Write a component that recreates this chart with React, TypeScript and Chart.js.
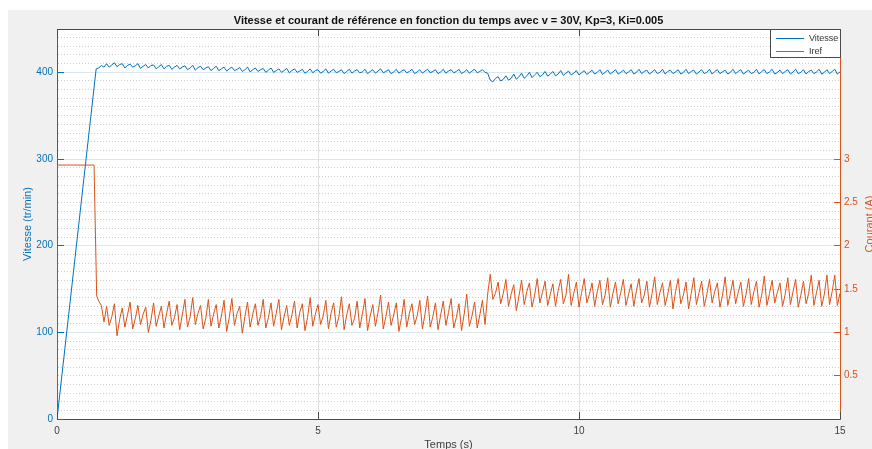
import React, { useEffect, useRef } from "react";
import { Chart, registerables } from "chart.js";

Chart.register(...registerables);

// ---------- text ----------
const TITLE = "Vitesse et courant de référence en fonction du temps avec v = 30V, Kp=3, Ki=0.005";
const X_TITLE = "Temps (s)";
const Y_LEFT_TITLE = "Vitesse (tr/min)";
const Y_RIGHT_TITLE = "Courant (A)";
const SERIES_NAMES = ["Vitesse", "Iref"];

// ---------- ticks ----------
const X_TICKS = [0, 5, 10, 15];
const SPEED_TICKS = [0, 100, 200, 300, 400];
const CURRENT_TICKS = [0.5, 1, 1.5, 2, 2.5, 3];
const SPEED_MINOR_STEP = 10;

// ---------- sampling ----------
const SAMPLE_DT = 0.05;
const SEG1_START = 0.8; // s
const SEG2_START = 8.25; // s (load step)

// ---------- Vitesse (tr/min) ----------
const vitesseHeadTimes = [0, 0.75];
const vitesseHead = [0, 404];
const vitesseSeg1 = [
  405, 408, 406,
  410, 406, 408.5, 411, 406.5, 409, 410, 405, 408, 409.5, 406, 407.5,
  410, 404.5, 407, 409, 405, 408, 408.5, 404, 406.5, 409, 404, 407,
  408, 403.5, 406, 408, 404, 406, 407.5, 403, 405, 408, 402.5, 405.5,
  407, 403, 405, 406.5, 402, 404.5, 407, 402, 404, 406, 401.5, 404,
  406, 402, 403.5, 405.5, 401, 403, 406, 400.5, 403, 405, 401, 403,
  404.5, 400, 402.5, 405, 400, 402, 404, 400, 402, 404.5, 399.5, 402,
  404, 400, 401.5, 403.5, 399, 401, 404, 399.5, 402, 403, 399, 401,
  404, 399, 401.5, 403.5, 399.5, 401, 403, 398.5, 401, 403.5, 399, 401.5,
  403, 399.5, 400.5, 403.5, 398.5, 401, 403, 399, 401.5, 404, 399.5, 401,
  403, 398.5, 400.5, 403.5, 399, 401.5, 403, 399.5, 401, 403.5, 398.5, 400.5,
  403, 399, 401.5, 403.5, 399.5, 401, 403, 398.5, 400.5, 403.5, 399, 401.5,
  403, 399.5, 401, 403.5, 398.5, 400.5, 403, 399, 401.5, 403.5, 399.5, 401,
  403, 400,
];
const vitesseSeg2 = [
  399, 391, 389, 393,
  395, 390, 392, 396, 391, 393, 398, 392, 395, 399, 393, 396,
  400, 394, 397, 400, 395, 397, 401, 395.5, 398, 401, 396, 398,
  402, 396.5, 399, 401.5, 397, 399, 402, 397, 399.5, 402, 397.5, 400,
  402.5, 398, 400, 403, 397.5, 400, 402.5, 398, 400.5, 403, 398, 400,
  402.5, 398.5, 400.5, 403, 398, 400, 403.5, 398.5, 401, 402.5, 398, 400.5,
  403, 398.5, 400, 403.5, 398, 401, 402.5, 398.5, 400.5, 403, 398, 400,
  403.5, 398.5, 401, 402.5, 398, 400.5, 403, 398.5, 400, 403.5, 398, 401,
  403, 398.5, 400.5, 402.5, 398, 400, 403.5, 398.5, 401, 403, 398, 400.5,
  402.5, 398.5, 400, 403.5, 398, 401, 403, 398.5, 400.5, 403.5, 398, 400,
  402.5, 398.5, 401, 403, 398, 400.5, 403.5, 398.5, 400, 403, 398, 401,
  402.5, 398.5, 400.5, 403.5, 398, 400, 403, 398.5, 401, 403.5, 398, 400.5,
];

// ---------- Iref (A) ----------
const irefHeadTimes = [0, 0, 0.71, 0.76];
const irefHead = [0, 2.93, 2.93, 1.42];
const irefSeg1 = [
  1.36, 1.31, 1.12,
  1.30, 1.08, 1.18, 1.33, 0.96, 1.15, 1.28, 1.06, 1.20, 1.35, 1.04, 1.16,
  1.31, 1.09, 1.21, 1.29, 1.00, 1.14, 1.34, 1.07, 1.19, 1.30, 1.05, 1.22,
  1.36, 1.08, 1.17, 1.32, 1.03, 1.20, 1.38, 1.06, 1.18, 1.40, 1.09, 1.22,
  1.31, 1.04, 1.16, 1.38, 1.07, 1.21, 1.32, 1.05, 1.19, 1.37, 1.01, 1.17,
  1.39, 1.08, 1.22, 1.30, 0.99, 1.18, 1.35, 1.06, 1.21, 1.33, 1.08, 1.19,
  1.38, 1.05, 1.17, 1.34, 1.07, 1.22, 1.38, 1.03, 1.18, 1.31, 1.08, 1.20,
  1.36, 1.05, 1.23, 1.33, 1.02, 1.17, 1.40, 1.07, 1.21, 1.32, 1.09, 1.19,
  1.37, 1.04, 1.22, 1.34, 1.06, 1.18, 1.41, 1.03, 1.20, 1.33, 1.08, 1.16,
  1.36, 1.05, 1.21, 1.39, 1.02, 1.19, 1.32, 1.07, 1.23, 1.43, 1.04, 1.18,
  1.35, 1.08, 1.20, 1.34, 1.01, 1.17, 1.38, 1.06, 1.22, 1.33, 1.09, 1.19,
  1.37, 1.04, 1.21, 1.42, 1.06, 1.18, 1.34, 1.03, 1.20, 1.36, 1.08, 1.23,
  1.39, 1.05, 1.17, 1.33, 1.02, 1.21, 1.44, 1.07, 1.19, 1.35, 1.05, 1.20,
  1.37, 1.09,
];
const irefSeg2 = [
  1.44, 1.67, 1.38, 1.45,
  1.58, 1.33, 1.45, 1.61, 1.30, 1.44, 1.55, 1.25, 1.42, 1.60, 1.32, 1.47,
  1.57, 1.29, 1.43, 1.62, 1.34, 1.46, 1.59, 1.31, 1.44, 1.56, 1.30, 1.48,
  1.61, 1.33, 1.43, 1.67, 1.31, 1.45, 1.58, 1.29, 1.46, 1.62, 1.34, 1.44,
  1.57, 1.30, 1.47, 1.60, 1.32, 1.43, 1.63, 1.29, 1.45, 1.58, 1.33, 1.46,
  1.61, 1.31, 1.44, 1.56, 1.30, 1.48, 1.62, 1.34, 1.43, 1.59, 1.29, 1.45,
  1.64, 1.32, 1.46, 1.57, 1.31, 1.44, 1.60, 1.27, 1.47, 1.62, 1.33, 1.43,
  1.58, 1.27, 1.45, 1.63, 1.32, 1.46, 1.59, 1.30, 1.44, 1.61, 1.34, 1.47,
  1.57, 1.29, 1.43, 1.64, 1.31, 1.45, 1.60, 1.33, 1.46, 1.58, 1.30, 1.44,
  1.62, 1.32, 1.47, 1.59, 1.29, 1.43, 1.65, 1.31, 1.45, 1.60, 1.34, 1.46,
  1.57, 1.30, 1.44, 1.63, 1.32, 1.47, 1.61, 1.29, 1.43, 1.59, 1.33, 1.45,
  1.66, 1.31, 1.46, 1.60, 1.30, 1.44, 1.66, 1.32, 1.47, 1.66, 1.31, 1.45,
];

// ---------- styles ----------
const BLUE = "#0072BD";
const ORANGE = "#D95319";
const AXIS_GRAY = "#4a4a4a";
const TEXT_GRAY = "#404040";
const FONT_FAMILY = "'Liberation Sans', Arial, Helvetica, sans-serif";

function buildPoints(headT: number[], headV: number[], seg1: number[], seg2: number[]) {
  const pts: { x: number; y: number }[] = headT.map((t, i) => ({ x: t, y: headV[i] }));
  seg1.forEach((v, i) => pts.push({ x: +(SEG1_START + i * SAMPLE_DT).toFixed(4), y: v }));
  seg2.forEach((v, i) => pts.push({ x: +(SEG2_START + i * SAMPLE_DT).toFixed(4), y: v }));
  return pts;
}

const align = (p: number) => Math.round(p - 0.5) + 0.5;

const matlabPlugin = {
  id: "matlabLook",
  afterLayout(chart: any) {
    // centre the title over the plot box, as MATLAB does
    const tb = chart.titleBlock;
    if (tb && chart.chartArea) {
      tb.left = chart.chartArea.left;
      tb.right = chart.chartArea.right;
    }
  },
  beforeDraw(chart: any) {
    const { ctx, chartArea } = chart;
    ctx.save();
    ctx.fillStyle = "#ffffff";
    ctx.fillRect(chartArea.left, chartArea.top, chartArea.right - chartArea.left, chartArea.bottom - chartArea.top);
    ctx.restore();
  },
  beforeDatasetsDraw(chart: any) {
    const { ctx, chartArea, scales } = chart;
    const y = scales.y;
    ctx.save();
    ctx.strokeStyle = "#cccccc";
    ctx.lineWidth = 1;
    ctx.setLineDash([1, 2]);
    for (let v = SPEED_MINOR_STEP; v < y.max; v += SPEED_MINOR_STEP) {
      if (v % 100 === 0) continue;
      const py = align(y.getPixelForValue(v));
      ctx.beginPath();
      ctx.moveTo(chartArea.left + 1, py);
      ctx.lineTo(chartArea.right, py);
      ctx.stroke();
    }
    ctx.restore();
  },
  afterDraw(chart: any) {
    const { ctx, chartArea, scales } = chart;
    const { left, right, top, bottom } = chartArea;
    const TL = 7;
    ctx.save();
    ctx.lineWidth = 1;
    // top box line
    ctx.strokeStyle = AXIS_GRAY;
    ctx.beginPath();
    ctx.moveTo(left, align(top));
    ctx.lineTo(right + 1, align(top));
    ctx.stroke();
    // x ticks (bottom and top, inward)
    X_TICKS.forEach((v) => {
      const px = align(scales.x.getPixelForValue(v));
      ctx.beginPath();
      ctx.moveTo(px, bottom);
      ctx.lineTo(px, bottom - TL);
      ctx.moveTo(px, top);
      ctx.lineTo(px, top + TL);
      ctx.stroke();
    });
    // left ticks
    ctx.strokeStyle = BLUE;
    SPEED_TICKS.forEach((v) => {
      const py = align(scales.y.getPixelForValue(v));
      ctx.beginPath();
      ctx.moveTo(left, py);
      ctx.lineTo(left + TL, py);
      ctx.stroke();
    });
    // right ticks
    ctx.strokeStyle = ORANGE;
    CURRENT_TICKS.forEach((v) => {
      const py = align(scales.y1.getPixelForValue(v));
      ctx.beginPath();
      ctx.moveTo(right + 1, py);
      ctx.lineTo(right + 1 - TL, py);
      ctx.stroke();
    });
    // right axis title (reads bottom to top)
    ctx.fillStyle = ORANGE;
    ctx.font = `11px ${FONT_FAMILY}`;
    ctx.textAlign = "center";
    ctx.textBaseline = "middle";
    ctx.translate(right + 30, (top + bottom) / 2);
    ctx.rotate(-Math.PI / 2);
    ctx.fillText(Y_RIGHT_TITLE, 0, 0);
    ctx.setTransform(1, 0, 0, 1, 0, 0);
    // legend box
    const lw = 71, lh = 29;
    const lx = right + 1 - lw, ly = top;
    ctx.fillStyle = "#ffffff";
    ctx.fillRect(lx, ly, lw, lh);
    ctx.strokeStyle = AXIS_GRAY;
    ctx.strokeRect(lx + 0.5, ly + 0.5, lw - 1, lh - 1);
    const colors = [BLUE, ORANGE];
    ctx.font = `9px ${FONT_FAMILY}`;
    ctx.textAlign = "left";
    ctx.textBaseline = "middle";
    SERIES_NAMES.forEach((name, i) => {
      const ry = ly + 9.5 + i * 13;
      ctx.strokeStyle = colors[i];
      ctx.beginPath();
      ctx.moveTo(lx + 6, ry);
      ctx.lineTo(lx + 34, ry);
      ctx.stroke();
      ctx.fillStyle = "#333333";
      ctx.fillText(name, lx + 39, ry);
    });
    ctx.restore();
  },
};

export default function App() {
  const ref = useRef<HTMLCanvasElement | null>(null);

  useEffect(() => {
    if (!ref.current) return;
    Chart.defaults.font.family = FONT_FAMILY;
    const chart = new Chart(ref.current, {
      type: "line",
      data: {
        datasets: [
          {
            label: SERIES_NAMES[0],
            data: buildPoints(vitesseHeadTimes, vitesseHead, vitesseSeg1, vitesseSeg2),
            yAxisID: "y",
            borderColor: BLUE,
            backgroundColor: BLUE,
            borderWidth: 1,
            pointRadius: 0,
            tension: 0,
            order: 1,
          },
          {
            label: SERIES_NAMES[1],
            data: buildPoints(irefHeadTimes, irefHead, irefSeg1, irefSeg2),
            yAxisID: "y1",
            borderColor: ORANGE,
            backgroundColor: ORANGE,
            borderWidth: 1,
            pointRadius: 0,
            tension: 0,
            order: 0,
          },
        ],
      },
      options: {
        animation: false,
        responsive: false,
        devicePixelRatio: 1,
        layout: { padding: 0 },
        plugins: {
          legend: { display: false },
          tooltip: { enabled: false },
          title: {
            display: true,
            text: TITLE,
            color: "#111111",
            font: { size: 11, weight: "bold" },
            padding: { top: 4, bottom: 1.8 },
          },
        },
        scales: {
          x: {
            type: "linear",
            min: 0,
            max: 15,
            afterBuildTicks: (s: any) => {
              s.ticks = X_TICKS.map((v) => ({ value: v }));
            },
            afterFit: (s: any) => {
              s.height = 30;
            },
            grid: {
              drawTicks: false,
              color: (c: any) =>
                c.tick && (c.tick.value === 0 || c.tick.value === 15) ? "rgba(0,0,0,0)" : "#e0e0e0",
            },
            border: { color: AXIS_GRAY, width: 1 },
            ticks: {
              color: TEXT_GRAY,
              font: { size: 10 },
              padding: 6,
              maxRotation: 0,
              autoSkip: false,
              callback: (v: any) => String(v),
            },
            title: {
              display: true,
              text: X_TITLE,
              color: TEXT_GRAY,
              font: { size: 11 },
              padding: { top: 0, bottom: -2.5 },
            },
          },
          y: {
            type: "linear",
            position: "left",
            min: 0,
            max: 450,
            afterBuildTicks: (s: any) => {
              s.ticks = SPEED_TICKS.map((v) => ({ value: v }));
            },
            afterFit: (s: any) => {
              s.width = 49;
            },
            grid: {
              drawTicks: false,
              color: (c: any) => (c.tick && c.tick.value === 0 ? "rgba(0,0,0,0)" : "#dae6f0"),
            },
            border: { color: BLUE, width: 1 },
            ticks: {
              color: BLUE,
              font: { size: 10 },
              padding: 4,
              autoSkip: false,
              callback: (v: any) => String(v),
            },
            title: {
              display: true,
              text: Y_LEFT_TITLE,
              color: BLUE,
              font: { size: 11 },
              padding: { top: 13.5, bottom: 0 },
            },
          },
          y1: {
            type: "linear",
            position: "right",
            min: 0,
            max: 4.5,
            afterBuildTicks: (s: any) => {
              s.ticks = CURRENT_TICKS.map((v) => ({ value: v }));
            },
            afterFit: (s: any) => {
              s.width = 32;
            },
            grid: { drawOnChartArea: false, drawTicks: false },
            border: { color: ORANGE, width: 1 },
            ticks: {
              color: ORANGE,
              font: { size: 10 },
              padding: 4,
              autoSkip: false,
              callback: (v: any) => String(v),
            },
          },
        },
      } as any,
      plugins: [matlabPlugin],
    });
    return () => chart.destroy();
  }, []);

  return (
    <div
      style={{
        position: "absolute",
        left: 8,
        top: 10,
        width: 864,
        height: 439,
        background: "#f0f0f0",
        overflow: "hidden",
      }}
    >
      <canvas ref={ref} width={864} height={439} style={{ display: "block", width: 864, height: 439 }} />
    </div>
  );
}
